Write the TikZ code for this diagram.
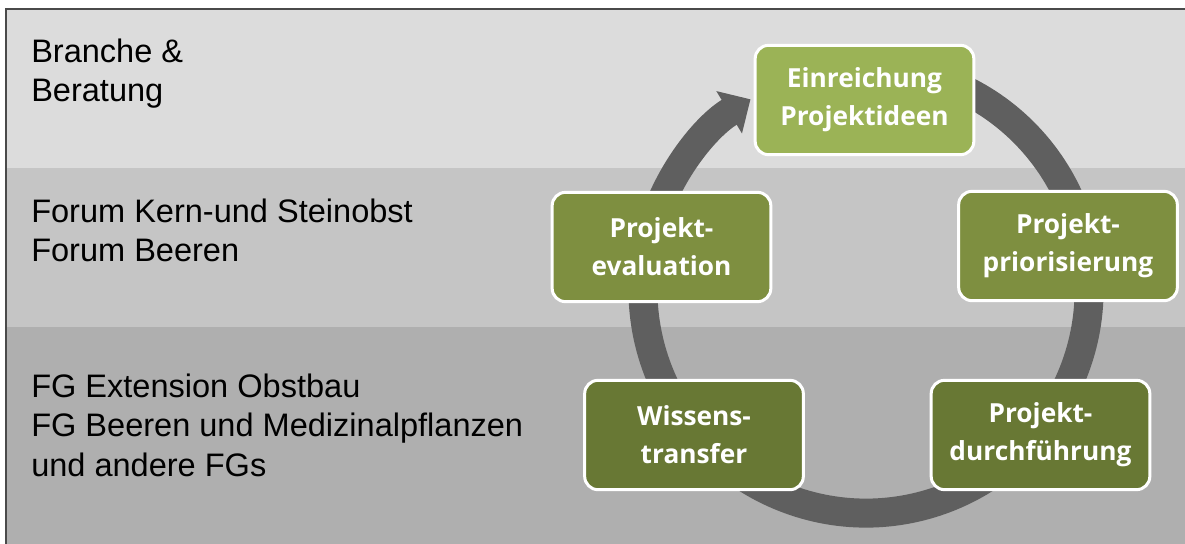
\documentclass[tikz,border=0pt]{standalone}
\usepackage{fontspec}
\setmainfont{Liberation Sans}
\newfontfamily\boxfont{Open Sans}
\usetikzlibrary{arrows.meta}
\definecolor{bandA}{HTML}{DCDCDC}
\definecolor{bandB}{HTML}{C5C5C5}
\definecolor{bandC}{HTML}{AFAFAF}
\definecolor{frameC}{HTML}{4A4A4A}
\definecolor{ringC}{HTML}{5F5F5F}
\definecolor{gLight}{HTML}{9BB356}
\definecolor{gMid}{HTML}{7E8F40}
\definecolor{gDark}{HTML}{687834}
\tikzset{
  box/.style={draw=white, line width=2.25pt, rounded corners=10pt,
    minimum width=164pt, minimum height=82pt, align=center, text=white,
    inner sep=0pt, font=\boxfont\bfseries\fontsize{19.7pt}{28.5pt}\selectfont},
  lab/.style={anchor=base west, inner sep=0pt, text=black,
    font=\fontsize{24.4pt}{29pt}\selectfont},
  ring/.style={draw=ringC, line width=21.75pt,
    -{Triangle[length=18.75pt,width=36pt]}},
  frameline/.style={draw=frameC, line width=1.1pt}
}
\begin{document}
\begin{tikzpicture}[x=0.75pt,y=0.75pt]
\useasboundingbox (0,0) rectangle (1185,-543);
\fill[white] (0,0) rectangle (1185,-543);
\begin{scope}
\clip (0,0) rectangle (1185,-543);
\fill[bandA] (6,-9) rectangle (1195,-168);
\fill[bandB] (6,-168) rectangle (1195,-327);
\fill[bandC] (6,-327) rectangle (1195,-555);
\draw[frameline] (1195,-9) -- (6,-9) -- (6,-555);
\end{scope}
% ring arrow
\coordinate (rs) at (942.3,-80.5);
\draw[ring] (rs) arc[start angle=70, end angle=-238.8, radius=167.25pt];
% boxes
\node[box, fill=gLight] (ein) at (864.5,-100) {Einreichung\\Projektideen};
\node[box, fill=gMid] (eval) at (661.5,-247) {Projekt-\\evaluation};
\node[box, fill=gMid] (prio) at (1068,-246) {Projekt-\\priorisierung};
\node[box, fill=gDark] (wiss) at (694,-435) {Wissens-\\transfer};
\node[box, fill=gDark] (durch) at (1040.5,-435) {Projekt-\\durchführung};
% left labels
\node[lab] (l1) at (31,-62) {Branche \&};
\node[lab] (l2) at (31,-101.5) {Beratung};
\node[lab] (l3) at (31,-222) {Forum Kern-und Steinobst};
\node[lab] (l4) at (31,-261.5) {Forum Beeren};
\node[lab] (l5) at (31,-397) {FG Extension Obstbau};
\node[lab] (l6) at (31,-436.5) {FG Beeren und Medizinalpflanzen};
\node[lab] (l7) at (31,-476) {und andere FGs};
\end{tikzpicture}
\end{document}
